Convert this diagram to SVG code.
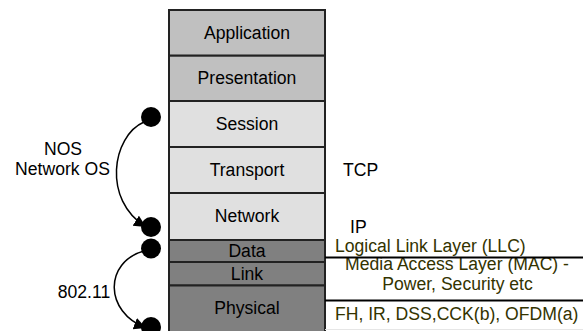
<svg xmlns="http://www.w3.org/2000/svg" width="583" height="331" viewBox="0 0 583 331">
<style>
text{font-family:"Liberation Sans",Arial,sans-serif;font-size:17.6px;fill:#000}
.c{text-anchor:middle}
.ol{fill:#333300}
.r{stroke:#222;stroke-width:2}
.up{fill:#c0c0c0}
.mid{fill:#e0e0e0}
.low{fill:#808080}
.conn{fill:none;stroke:#000;stroke-width:1.5}
.dot{fill:#000}
.sep{stroke:#000;stroke-width:2}
</style>
<defs>
<marker id="ah" markerUnits="userSpaceOnUse" markerWidth="14" markerHeight="14" refX="12" refY="6" orient="auto">
<path d="M0,0 L12,6 L0,12 z" fill="#000"/>
</marker>
</defs>
<rect width="583" height="331" fill="#fff"/>
<g id="application"><rect class="r up" x="169" y="10" width="156" height="45.7"/><text class="c" x="247" y="38.5">Application</text></g>
<g id="presentation"><rect class="r up" x="169" y="55.7" width="156" height="45.3"/><text class="c" x="247" y="84">Presentation</text></g>
<g id="session"><rect class="r mid" x="169" y="101" width="156" height="46"/><text class="c" x="247" y="130">Session</text></g>
<g id="transport"><rect class="r mid" x="169" y="147" width="156" height="46"/><text class="c" x="247" y="176">Transport</text></g>
<g id="network"><rect class="r mid" x="169" y="193" width="156" height="47"/><text class="c" x="247" y="222">Network</text></g>
<g id="data"><rect class="r low" x="169" y="240" width="156" height="22"/><text class="c" x="247" y="257">Data</text></g>
<g id="link"><rect class="r low" x="169" y="262" width="156" height="23.5"/><text class="c" x="247" y="279.5">Link</text></g>
<g id="physical"><rect class="r low" x="169" y="285.5" width="156" height="48"/><text class="c" x="247" y="313.5">Physical</text></g>
<g id="labels-left">
<text class="c" x="63" y="155">NOS</text>
<text class="c" x="62.5" y="175">Network OS</text>
<text class="c" x="84" y="298">802.11</text>
</g>
<g id="labels-right">
<text x="343" y="176">TCP</text>
<text x="350" y="232.5">IP</text>
<text class="ol" x="335" y="251.5">Logical Link Layer (LLC)</text>
<text class="ol c" x="457" y="270">Media Access Layer (MAC) -</text>
<text class="ol c" x="457.5" y="289.5">Power, Security etc</text>
<text class="ol" x="335" y="320">FH, IR, DSS,CCK(b), OFDM(a)</text>
<line class="sep" x1="325" y1="257.5" x2="583" y2="257.5"/>
<line class="sep" x1="325" y1="300.5" x2="583" y2="300.5"/>
<line x1="325" y1="329.5" x2="583" y2="329.5" stroke="#e6e6e6" stroke-width="1"/>
</g>
<g id="connectors">
<path class="conn" d="M144 122 C112 136,102 200,146 227" marker-end="url(#ah)"/>
<path class="conn" d="M144 251 C104 262,104 312,146 328" marker-end="url(#ah)"/>
<circle class="dot" cx="151" cy="117" r="10"/>
<circle class="dot" cx="151" cy="227" r="10"/>
<circle class="dot" cx="151" cy="248.5" r="10"/>
<circle class="dot" cx="151" cy="327" r="10"/>
</g>
</svg>
